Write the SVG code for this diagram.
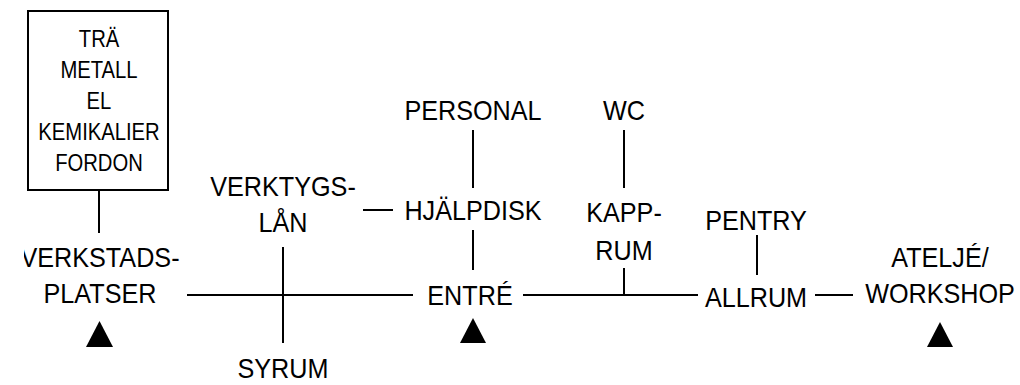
<svg xmlns="http://www.w3.org/2000/svg" width="1020" height="385" viewBox="0 0 1020 385">
<style>
text{font-family:"Liberation Sans",Arial,sans-serif;font-size:28px;fill:#000;text-anchor:middle}
text.s{font-size:23px}
.ln{stroke:#000;stroke-width:2;fill:none}
.tri{fill:#000}
</style>
<defs>
<clipPath id="clipL"><rect x="24" y="0" width="996" height="385"/></clipPath>
</defs>
<rect width="1020" height="385" fill="#fff"/>
<g id="connectors">
<line class="ln" x1="99" y1="190" x2="99" y2="233"/>
<line class="ln" x1="187" y1="295" x2="413" y2="295"/>
<line class="ln" x1="523" y1="295" x2="698" y2="295"/>
<line class="ln" x1="815" y1="295" x2="853" y2="295"/>
<line class="ln" x1="283" y1="247" x2="283" y2="343"/>
<line class="ln" x1="363" y1="210" x2="393" y2="210"/>
<line class="ln" x1="473" y1="130" x2="473" y2="188"/>
<line class="ln" x1="473" y1="230" x2="473" y2="270"/>
<line class="ln" x1="624" y1="130" x2="624" y2="188"/>
<line class="ln" x1="624" y1="268" x2="624" y2="295"/>
<line class="ln" x1="757" y1="235" x2="757" y2="275"/>
</g>
<g id="materials">
<rect class="ln" x="28" y="11" width="140" height="179" stroke-width="1.3"/>
<text class="s" transform="translate(99 46.5) scale(0.88 1)">TRÄ</text>
<text class="s" transform="translate(99 78) scale(0.88 1)">METALL</text>
<text class="s" transform="translate(99 109) scale(0.88 1)">EL</text>
<text class="s" transform="translate(99 140) scale(0.88 1)">KEMIKALIER</text>
<text class="s" transform="translate(99 171) scale(0.88 1)">FORDON</text>
</g>
<g id="verkstadsplatser">
<g clip-path="url(#clipL)"><text transform="translate(100 267) scale(0.9 1)">VERKSTADS-</text></g>
<text transform="translate(100 303) scale(0.9 1)">PLATSER</text>
<polygon class="tri" points="99.5,321 86,347 113,347"/>
</g>
<g id="verktygslan">
<text transform="translate(283 196) scale(0.9 1)">VERKTYGS-</text>
<text transform="translate(283 232) scale(0.9 1)">LÅN</text>
</g>
<g id="syrum">
<text transform="translate(283 378) scale(0.9 1)">SYRUM</text>
</g>
<g id="personal">
<text transform="translate(473 119.5) scale(0.9 1)">PERSONAL</text>
</g>
<g id="hjalpdisk">
<text transform="translate(473 220) scale(0.9 1)">HJÄLPDISK</text>
</g>
<g id="entre">
<text transform="translate(470 305) scale(0.9 1)">ENTRÉ</text>
<polygon class="tri" points="473,318 460,343 486,343"/>
</g>
<g id="wc">
<text transform="translate(624 120) scale(0.9 1)">WC</text>
</g>
<g id="kapprum">
<text transform="translate(624 222) scale(0.9 1)">KAPP-</text>
<text transform="translate(624 260) scale(0.9 1)">RUM</text>
</g>
<g id="pentry">
<text transform="translate(756 230) scale(0.9 1)">PENTRY</text>
</g>
<g id="allrum">
<text transform="translate(756 307) scale(0.9 1)">ALLRUM</text>
</g>
<g id="atelje">
<text transform="translate(940 267) scale(0.9 1)">ATELJÉ/</text>
<text transform="translate(940 303) scale(0.9 1)">WORKSHOP</text>
<polygon class="tri" points="940,322 927,347 953,347"/>
</g>
</svg>
